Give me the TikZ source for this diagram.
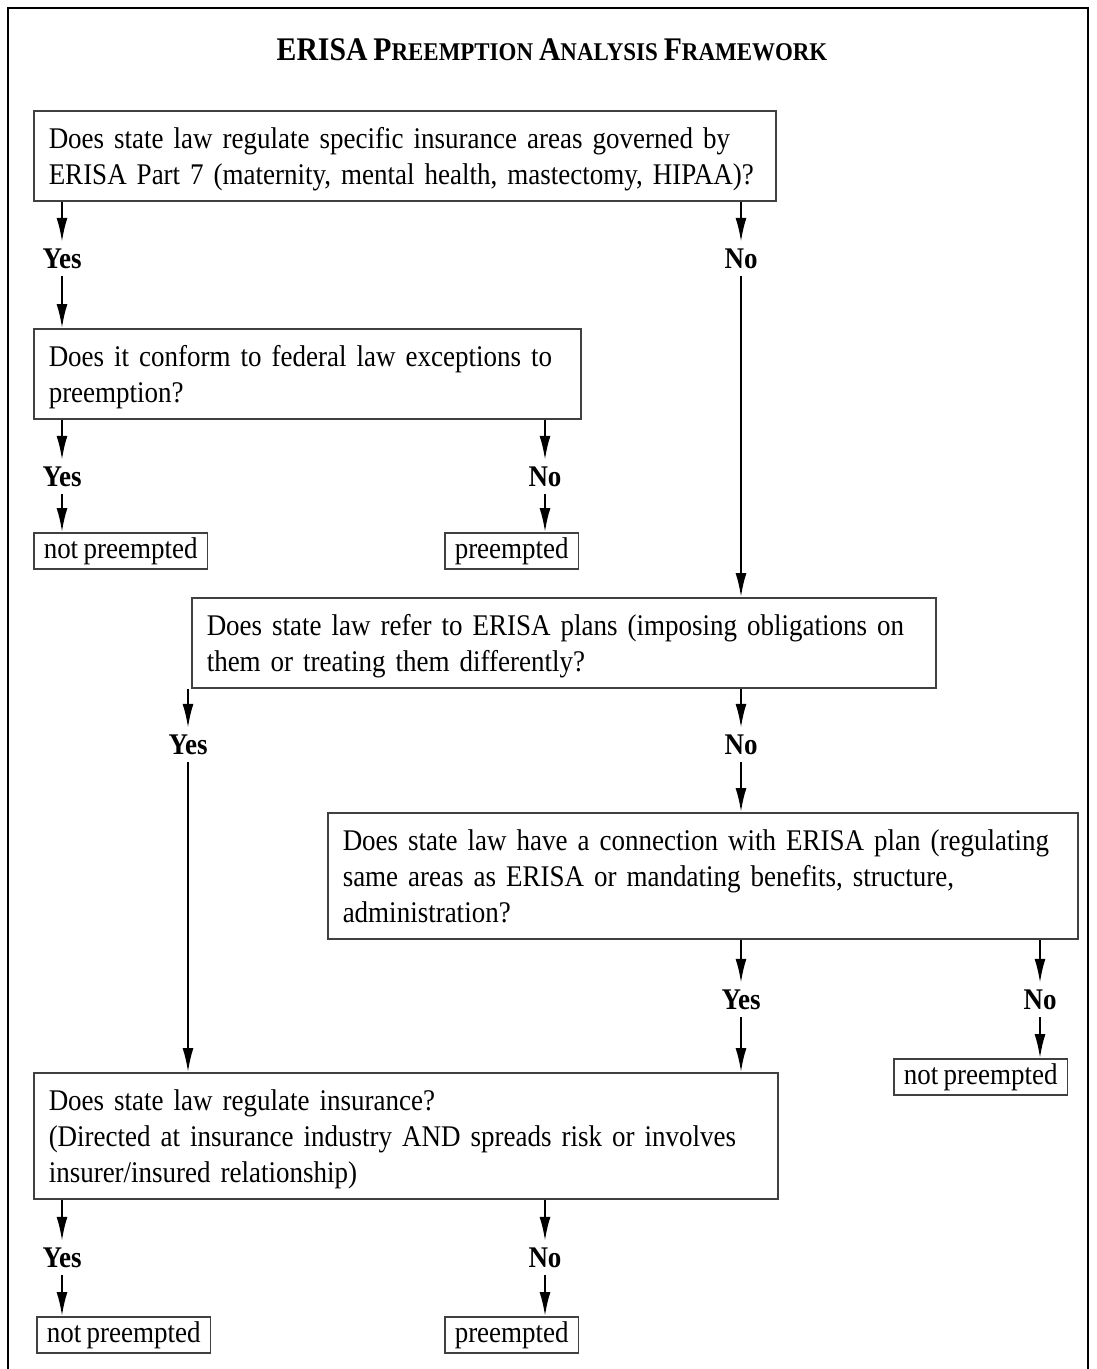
\documentclass[tikz,border=0pt]{standalone}
\usepackage{fontspec}
\setmainfont{Liberation Serif}[FakeStretch=0.9, WordSpace=0.8]
\usepackage{tikz}
\usetikzlibrary{positioning, arrows.meta}
\tikzset{
    box_pregunta/.style={rectangle, draw=black!75, line width=1.5pt, anchor=north west, align=left, inner xsep=15pt, inner ysep=8pt, font=\fontsize{30}{36}\selectfont, execute at begin node={\rule{0pt}{30pt}}, execute at end node={\rule[-8pt]{0pt}{0pt}}},
    box_resultado/.style={rectangle, draw=black!75, line width=1.5pt, anchor=north west, inner xsep=10pt, inner ysep=4.5pt, font=\fontsize{30}{36}\selectfont},
    etiqueta/.style={inner sep=0pt, minimum height=34pt, font=\fontsize{30}{36}\selectfont\bfseries},
    flecha/.style={-{Latex[length=24pt, width=11pt]}, line width=2pt, black}
}
\newcommand{\versalita}[2]{{\fontsize{33}{38}\selectfont #1}{\fontsize{25.5}{30}\selectfont #2}}

\begin{document}
\begin{tikzpicture}[x=1pt, y=1pt]
    \useasboundingbox (0,0) rectangle (1097,-1369);

    % 0. Marco exterior (abierto abajo)
    \draw[line width=2pt] (8,-1369) -- (8,-8) -- (1088,-8) -- (1088,-1369);

    % 1. Titulo
    \node[font=\fontsize{33}{38}\selectfont\bfseries] (titulo) at (552,-50) {\versalita{ERISA}{} \versalita{P}{REEMPTION} \versalita{A}{NALYSIS} \versalita{F}{RAMEWORK}};

    % 2. Preguntas
    \node[box_pregunta, text width=712pt] (p1) at (33,-110) {Does state law regulate specific insurance areas governed by\\ERISA Part 7 (maternity, mental health, mastectomy, HIPAA)?};
    \node[box_pregunta, text width=517pt] (p2) at (33,-328) {Does it conform to federal law exceptions to\\preemption?};
    \node[box_pregunta, text width=714pt] (p3) at (191,-597) {Does state law refer to ERISA plans (imposing obligations on\\them or treating them differently?};
    \node[box_pregunta, text width=720pt] (p4) at (327,-812) {Does state law have a connection with ERISA plan (regulating\\same areas as ERISA or mandating benefits, structure,\\administration?};
    \node[box_pregunta, text width=714pt] (p5) at (33,-1072) {Does state law regulate insurance?\\(Directed at insurance industry AND spreads risk or involves\\insurer/insured relationship)};

    % 3. Etiquetas Yes / No
    \node[etiqueta] (s1) at (62,-259) {Yes};
    \node[etiqueta] (n1) at (741,-259) {No};
    \node[etiqueta] (s2) at (62,-477) {Yes};
    \node[etiqueta] (n2) at (545,-477) {No};
    \node[etiqueta] (s3) at (188,-745) {Yes};
    \node[etiqueta] (n3) at (741,-745) {No};
    \node[etiqueta] (s4) at (741,-1000) {Yes};
    \node[etiqueta] (n4) at (1040,-1000) {No};
    \node[etiqueta] (s5) at (62,-1258) {Yes};
    \node[etiqueta] (n5) at (545,-1258) {No};

    % 4. Resultados
    \node[box_resultado] (r1) at (33,-532) {not preempted};
    \node[box_resultado] (r2) at (444,-532) {preempted};
    \node[box_resultado] (r3) at (893,-1058) {not preempted};
    \node[box_resultado] (r4) at (36,-1316) {not preempted};
    \node[box_resultado] (r5) at (444,-1316) {preempted};

    % --- CONEXIONES ---

    % Desde la primera pregunta
    \draw[flecha] (p1.south -| s1) -- (s1.north);
    \draw[flecha] (s1.south) -- (s1.south |- p2.north);
    \draw[flecha] (p1.south -| n1) -- (n1.north);
    \draw[flecha] (n1.south) -- (n1.south |- p3.north);

    % Excepciones federales
    \draw[flecha] (p2.south -| s2) -- (s2.north);
    \draw[flecha] (s2.south) -- (s2.south |- r1.north);
    \draw[flecha] (p2.south -| n2) -- (n2.north);
    \draw[flecha] (n2.south) -- (n2.south |- r2.north);

    % Referencia a planes ERISA
    \draw[flecha] (p3.south -| s3) -- (s3.north);
    \draw[flecha] (s3.south) -- (s3.south |- p5.north);
    \draw[flecha] (p3.south -| n3) -- (n3.north);
    \draw[flecha] (n3.south) -- (n3.south |- p4.north);

    % Conexion con planes ERISA
    \draw[flecha] (p4.south -| s4) -- (s4.north);
    \draw[flecha] (s4.south) -- (s4.south |- p5.north);
    \draw[flecha] (p4.south -| n4) -- (n4.north);
    \draw[flecha] (n4.south) -- (n4.south |- r3.north);

    % Regulacion de seguros
    \draw[flecha] (p5.south -| s5) -- (s5.north);
    \draw[flecha] (s5.south) -- (s5.south |- r4.north);
    \draw[flecha] (p5.south -| n5) -- (n5.north);
    \draw[flecha] (n5.south) -- (n5.south |- r5.north);

\end{tikzpicture}
\end{document}
